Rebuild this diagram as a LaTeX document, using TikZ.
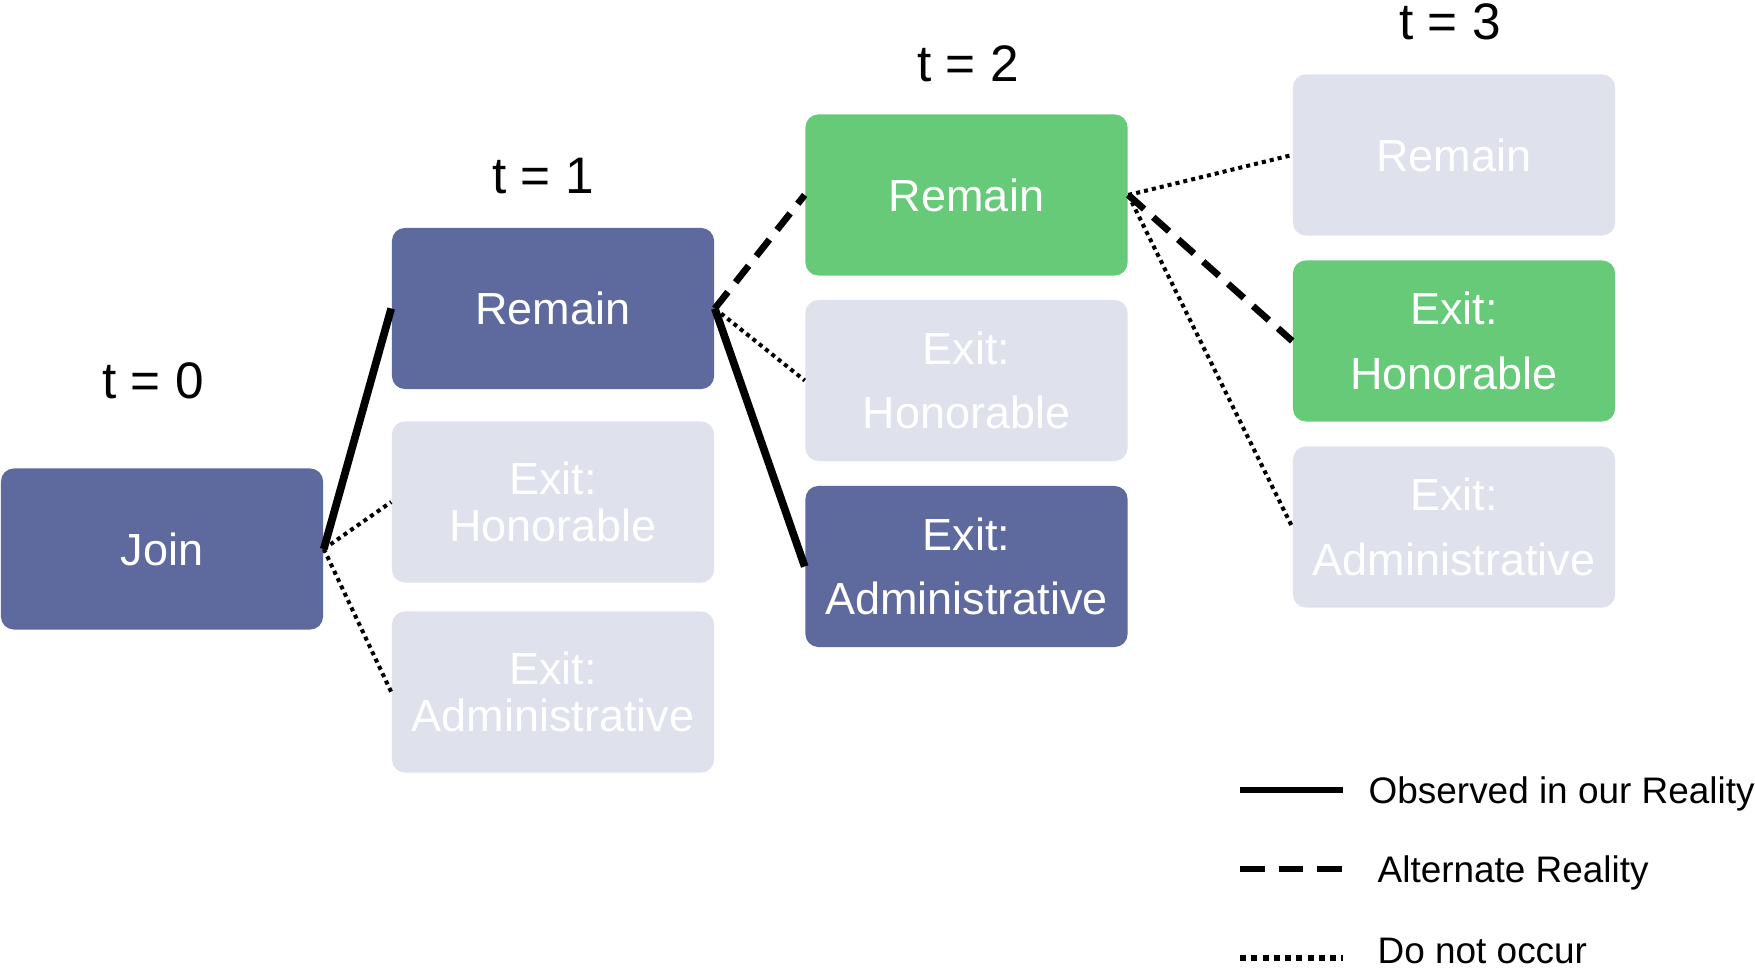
\documentclass[tikz,border=0pt]{standalone}
\usepackage{fontspec}
\setmainfont{Liberation Sans}
\definecolor{slate}{RGB}{94,106,158}
\definecolor{leaf}{RGB}{102,202,120}
\definecolor{mist}{RGB}{223,225,236}

\begin{document}
\begin{tikzpicture}[x=0.01cm,y=-0.01cm,
    state/.style={rectangle,rounded corners=0.13cm,minimum width=3.22cm,
        minimum height=1.61cm,inner sep=0pt,text=white,align=center,
        font=\fontsize{12.8}{18.4}\selectfont},
    seen/.style={state,fill=slate},
    alt/.style={state,fill=leaf},
    never/.style={state,fill=mist},
    tight/.style={font=\fontsize{12.8}{13.3}\selectfont},
    stamp/.style={font=\fontsize{14.6}{17}\selectfont},
    observed/.style={line width=2.2pt},
    alternate/.style={line width=1.9pt,dash pattern=on 6pt off 3.5pt},
    absent/.style={line width=1.15pt,dash pattern=on 1.15pt off 1.15pt},
    keyline/.style={line width=1.9pt},
    keydots/.style={line width=1.9pt,dash pattern=on 1.7pt off 1.5pt},
    keytext/.style={anchor=west,inner sep=0pt,font=\fontsize{10.5}{12}\selectfont}]
    \useasboundingbox (0,0) rectangle (1755,971);

    \node[stamp] (t0) at (153,381) {t = 0};
    \node[stamp] (t1) at (543,176) {t = 1};
    \node[stamp] (t2) at (968,64) {t = 2};
    \node[stamp] (t3) at (1450,22) {t = 3};

    \node[seen] (join) at (162,549) {Join};
    \node[seen] (remA) at (553,308.5) {Remain};
    \node[never,tight] (honA) at (553,502) {Exit:\\Honorable};
    \node[never,tight] (admA) at (553,692) {Exit:\\Administrative};
    \node[alt] (remB) at (966.5,195) {Remain};
    \node[never] (honB) at (966.5,380.5) {Exit:\\Honorable};
    \node[seen] (admB) at (966.5,566.5) {Exit:\\Administrative};
    \node[never] (remC) at (1454,155) {Remain};
    \node[alt] (honC) at (1454,341) {Exit:\\Honorable};
    \node[never] (admC) at (1454,527) {Exit:\\Administrative};

    \draw[observed] (join.east) -- (remA.west);
    \draw[absent] (join.east) -- (honA.west);
    \draw[absent] (join.east) -- (admA.west);
    \draw[alternate] (remA.east) -- (remB.west);
    \draw[absent] (remA.east) -- (honB.west);
    \draw[observed] (remA.east) -- (admB.west);
    \draw[absent] (remB.east) -- (remC.west);
    \draw[alternate] (remB.east) -- (honC.west);
    \draw[absent] (remB.east) -- (admC.west);

    \coordinate (solidA) at (1240,790);
    \coordinate (solidB) at (1343,790);
    \coordinate (dashA) at (1240,869);
    \coordinate (dashB) at (1343,869);
    \coordinate (dotA) at (1240,958);
    \coordinate (dotB) at (1343,958);
    \draw[keyline] (solidA) -- (solidB);
    \draw[keyline,dash pattern=on 7pt off 4pt] (dashA) -- (dashB);
    \draw[keydots] (dotA) -- (dotB);
    \node[keytext] (solidkey) at (1368,794) {Observed in our Reality};
    \node[keytext] (dashkey) at (1377,873) {Alternate Reality};
    \node[keytext] (dotkey) at (1377,951) {Do not occur};
\end{tikzpicture}
\end{document}
